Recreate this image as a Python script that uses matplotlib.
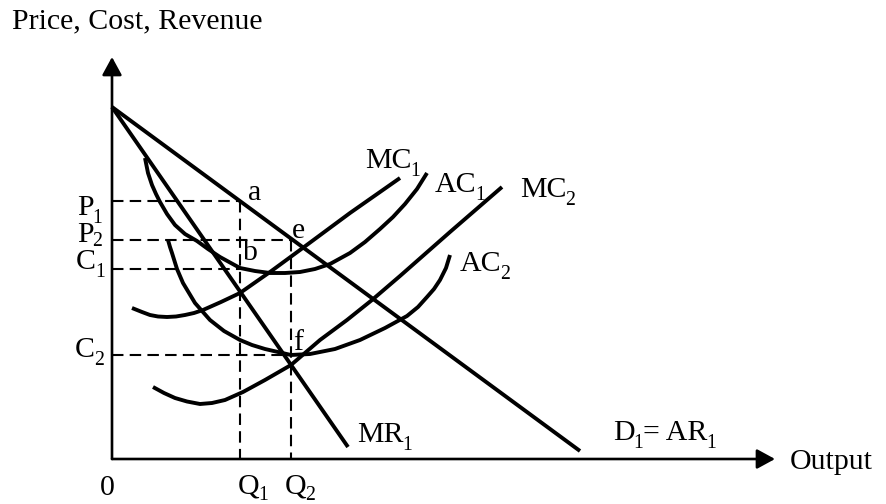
import matplotlib
matplotlib.use("Agg")
import matplotlib.pyplot as plt

plt.rcParams["font.family"] = ["Liberation Serif", "DejaVu Serif"]

# demand (AR) and marginal revenue lines
demand_q = [0, 46.8]
demand_p = [35.2, 0.8]
mr_q = [0, 23.6]
mr_p = [35.2, 1.2]

# cost curves
mc1_q = [2.0, 3.0, 3.8, 4.6, 5.5, 6.4, 7.3, 8.2, 9.1, 10.9, 12.8, 15.8, 18.8, 23.8, 28.8]
mc1_c = [15.1, 14.7, 14.4, 14.25, 14.2, 14.25, 14.4, 14.6, 14.9, 15.7, 16.6, 18.7, 20.9, 24.6, 28.1]

ac1_q = [3.3, 3.6, 4.0, 4.4, 4.8, 5.5, 6.3, 7.3, 8.5, 9.6, 10.8, 12.8, 14.3, 15.8, 17.3,
         18.8, 20.3, 21.8, 23.8, 25.3, 26.8, 28.1, 29.3, 30.5, 31.5]
ac1_c = [30.1, 28.6, 27.4, 26.5, 25.7, 24.5, 23.4, 22.5, 21.8, 21.0, 20.2, 19.1, 18.8, 18.6, 18.6,
         18.7, 19.0, 19.5, 20.6, 21.7, 23.0, 24.2, 25.5, 27.0, 28.6]

mc2_q = [4.1, 5.2, 6.3, 7.5, 8.8, 10.0, 11.3, 13.1, 15.3, 17.9, 20.8, 23.5, 26.0, 28.8, 33.8, 39.0]
mc2_c = [7.2, 6.6, 6.1, 5.75, 5.5, 5.6, 5.9, 6.7, 7.9, 9.4, 11.9, 13.9, 15.9, 18.3, 22.7, 27.2]

ac2_q = [5.6, 5.8, 6.0, 6.5, 7.1, 8.3, 9.8, 11.2, 12.8, 14.0, 15.3, 16.6, 17.9, 19.8, 22.3,
         24.8, 27.3, 29.5, 30.6, 31.5, 32.2, 32.8, 33.4, 33.8]
ac2_c = [21.9, 21.2, 20.6, 19.0, 17.6, 15.6, 13.9, 12.8, 11.9, 11.4, 11.0, 10.7, 10.4, 10.5, 11.0,
         11.9, 13.1, 14.3, 15.2, 16.2, 17.0, 17.9, 19.1, 20.4]

# equilibrium levels
q1, q2 = 12.8, 17.9
p1, p2 = 25.8, 21.9
c1, c2 = 19.0, 10.4

# axis extents (arrow tips)
x_end, y_end = 66.3, 40.2

fig = plt.figure(figsize=(8.86, 5.04), dpi=100)
ax = fig.add_axes([0, 0, 1, 1])
ax.set_xlim(-11.2, 77.4)
ax.set_ylim(-4.5, 45.9)
ax.axis("off")

curve = dict(color="black", lw=2.8, solid_capstyle="butt")
ax.plot(demand_q, demand_p, **curve)
ax.plot(mr_q, mr_p, **curve)
ax.plot(mc1_q, mc1_c, **curve)
ax.plot(ac1_q, ac1_c, **curve)
ax.plot(mc2_q, mc2_c, **curve)
ax.plot(ac2_q, ac2_c, **curve)

# dashed guides
dash = dict(color="black", lw=1.5, linestyle=(0, (5.5, 3)))
ax.plot([0, q1], [p1, p1], **dash)
ax.plot([q1, q1], [p1, 0], **dash)
ax.plot([0, q2], [p2, p2], **dash)
ax.plot([q2, q2], [p2, 0], **dash)
ax.plot([0, q1], [c1, c1], **dash)
ax.plot([0, q2], [c2, c2], **dash)

# axes with arrows
arrow = dict(arrowstyle="-|>,head_length=0.55,head_width=0.3", color="black",
             lw=1.9, mutation_scale=20, shrinkA=0, shrinkB=0)
ax.annotate("", xy=(0, y_end), xytext=(0, 0), arrowprops=arrow)
ax.annotate("", xy=(x_end, 0), xytext=(0, 0), arrowprops=arrow)

fs = 21.5


def label(x, y, parts, drop=5.5):
    # parts: list of (text, is_subscript); pieces are chained left to right
    prev = None
    for txt, sub in parts:
        if prev is None:
            prev = ax.text(x, y, txt, fontsize=fs, va="baseline", ha="left")
            continue
        prev = ax.annotate(txt, xy=(1, y), xycoords=(prev, "data"),
                           xytext=(-0.8 if sub else 0, -drop if sub else 0),
                           textcoords="offset points",
                           fontsize=fs * 0.66 if sub else fs,
                           va="baseline", ha="left")


ax.text(-10.0, 43.8, "Price, Cost, Revenue", fontsize=fs, va="center", ha="left")
ax.text(67.8, -0.3, "Output", fontsize=fs, va="center", ha="left")
ax.text(-0.5, -2.9, "0", fontsize=fs, va="center", ha="center")
label(12.6, -3.4, [("Q", False), ("1", True)], drop=5)
label(17.3, -3.4, [("Q", False), ("2", True)], drop=5)

label(-3.5, 24.4, [("P", False), ("1", True)])
label(-3.5, 21.7, [("P", False), ("2", True)], drop=3)
label(-3.6, 19.0, [("C", False), ("1", True)])
label(-3.7, 10.2, [("C", False), ("2", True)])

label(13.6, 25.9, [("a", False)])
label(18.0, 22.1, [("e", False)])
label(13.1, 19.9, [("b", False)])
label(18.1, 10.9, [("f", False)])

label(25.3, 29.1, [("MC", False), ("1", True)])
label(32.3, 26.7, [("AC", False), ("1", True)])
label(40.8, 26.2, [("MC", False), ("2", True)])
label(34.8, 18.8, [("AC", False), ("2", True)])
label(24.5, 1.7, [("MR", False), ("1", True)])
label(50.1, 1.9, [("D", False), ("1", True), ("= AR", False), ("1", True)])

fig.savefig("out.png", dpi=100)
